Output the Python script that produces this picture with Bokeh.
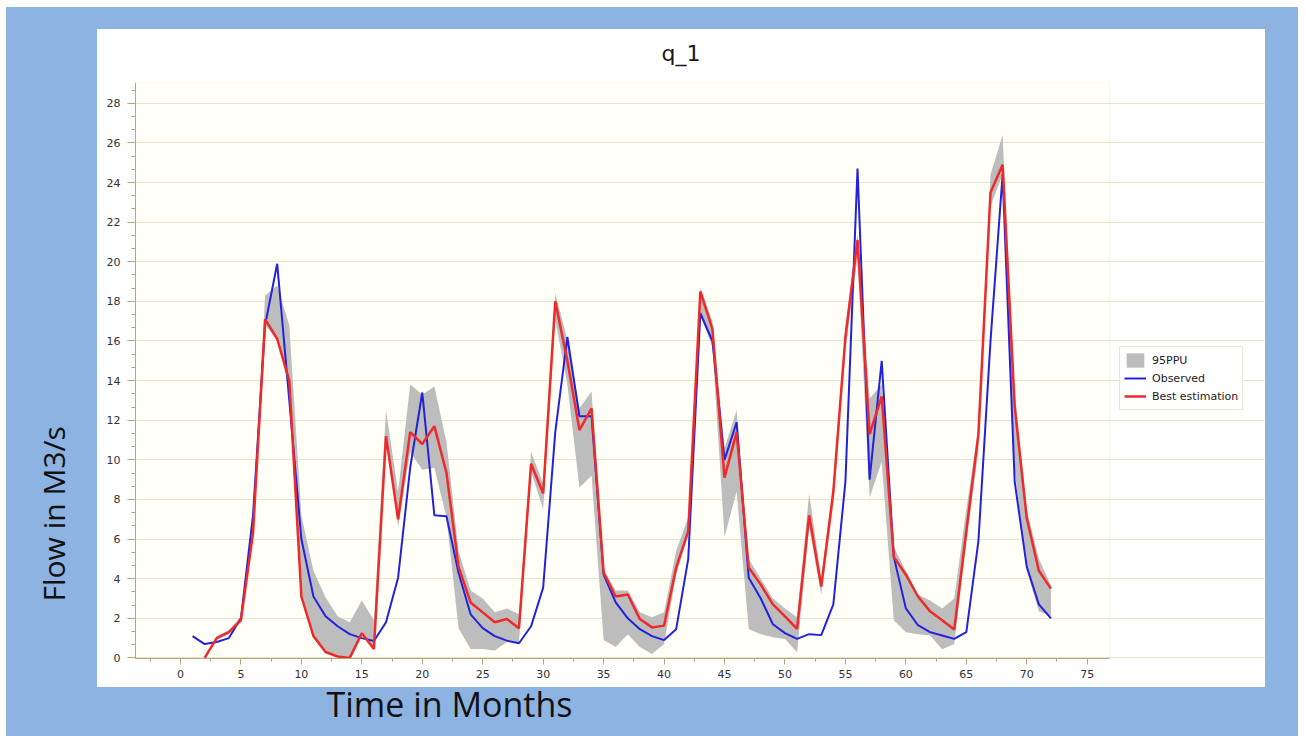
from bokeh.plotting import figure
from bokeh.models import (Range1d, SingleIntervalTicker, Legend, LegendItem,
                          ColumnDataSource, BoxAnnotation, Title)
from bokeh.embed import file_html
from bokeh.resources import INLINE

# ---------------- data ----------------
months = list(range(1, 73))
observed = [1.1, 0.7, 0.8, 1.0, 2.0, 7.2, 16.8, 19.9, 13.0, 6.0,
            3.1, 2.1, 1.6, 1.2, 1.0, 0.85, 1.8, 4.05, 9.6, 13.4,
            7.2, 7.15, 4.3, 2.2, 1.5, 1.1, 0.87, 0.74, 1.6, 3.55,
            11.4, 16.2, 12.2, 12.2, 4.2, 2.8, 2.0, 1.45, 1.1, 0.9,
            1.45, 5.0, 17.4, 16.0, 10.0, 11.9, 4.05, 3.0, 1.7, 1.25,
            0.96, 1.2, 1.15, 2.7, 8.9, 24.7, 9.0, 15.0, 5.1, 2.5,
            1.65, 1.3, 1.13, 0.96, 1.3, 5.9, 16.0, 24.4, 8.9, 4.6,
            2.7, 2.0]

est_months = list(range(2, 73))
best_estimation = [0.0, 1.0, 1.3, 1.9, 6.3, 17.1, 16.1, 14.0, 3.1,
                   1.1, 0.3, 0.07, 0.0, 1.24, 0.45, 11.2, 7.0, 11.4, 10.8,
                   11.7, 9.35, 4.6, 2.8, 2.3, 1.8, 1.96, 1.5, 9.8, 8.3,
                   18.0, 15.0, 11.5, 12.6, 4.3, 3.1, 3.2, 1.96, 1.54, 1.63,
                   4.56, 6.4, 18.5, 16.6, 9.1, 11.4, 4.56, 3.7, 2.7, 2.1,
                   1.46, 7.2, 3.6, 8.4, 16.2, 21.1, 11.3, 13.2, 5.1, 4.2,
                   3.1, 2.35, 1.9, 1.43, 6.4, 11.3, 23.5, 24.9, 12.7, 7.05,
                   4.4, 3.5]

ppu_lower = [0.0, 0.9, 1.2, 1.9, 6.1, 16.8, 16.1, 13.6, 3.1,
             1.1, 0.3, 0.05, 0.0, 1.2, 0.45, 11.2, 6.6, 10.4, 9.5,
             9.6, 7.1, 1.5, 0.45, 0.45, 0.37, 0.8, 0.8, 9.4, 7.5,
             17.1, 13.8, 8.6, 9.2, 0.9, 0.55, 1.2, 0.55, 0.2, 0.7,
             4.2, 6.2, 17.3, 15.7, 6.1, 8.4, 1.46, 1.2, 1.04, 0.96,
             0.29, 6.6, 3.2, 7.75, 15.5, 20.2, 8.1, 9.9, 1.9, 1.3,
             1.2, 1.13, 0.44, 0.7, 5.75, 10.5, 22.8, 24.4, 9.5, 4.4,
             2.35, 2.1]
ppu_upper = [0.1, 1.1, 1.4, 2.1, 6.6, 18.3, 18.8, 16.8, 7.2,
             4.4, 3.05, 2.1, 1.8, 2.9, 1.9, 12.5, 8.4, 13.8, 13.3,
             13.7, 10.9, 5.4, 3.4, 3.0, 2.3, 2.5, 2.2, 10.4, 8.8,
             18.4, 16.1, 12.6, 13.45, 4.5, 3.4, 3.4, 2.3, 2.05, 2.3,
             5.4, 7.1, 18.7, 17.0, 10.6, 12.5, 5.0, 4.0, 3.0, 2.5,
             2.05, 8.3, 4.06, 8.75, 16.7, 21.4, 13.1, 13.8, 5.6, 4.4,
             3.2, 2.9, 2.5, 3.0, 7.5, 11.6, 24.4, 26.4, 13.4, 7.5,
             5.0, 3.65]

x_ticks_step = 5
y_ticks_step = 2

# ---------------- figure ----------------
# plot area (axes box) limits; the frame itself extends to the right to hold the legend
X_LO, X_HI = -3.72, 76.84
Y_LO, Y_HI = -0.03, 29.05

bg = ("linear-gradient(#ffffff,#ffffff) 97px 29px / 1168px 658px no-repeat, "
      "linear-gradient(#8DB3E2,#8DB3E2) 6px 7px / 1292px 729px no-repeat, #ffffff")

p = figure(width=1306, height=736, output_backend="svg", toolbar_location=None,
           x_range=Range1d(X_LO, X_LO + 1130 / 12.09), y_range=Range1d(Y_LO, Y_HI),
           min_border_left=135, min_border_right=41, min_border_top=82,
           min_border_bottom=78,
           border_fill_color=None, background_fill_color=None,
           outline_line_color=None, styles={"background": bg})

# axes box background + border
p.add_layout(BoxAnnotation(left=X_LO, right=X_HI, bottom=Y_LO, top=Y_HI,
                           fill_color="#FFFFF8", fill_alpha=1.0,
                           line_color="#D9D4BC", line_width=1, level="image"))

# title
p.title.text = "q_1"
p.title.align = "left"
p.title.offset = 526
p.title.standoff = 34
p.title.text_font = "DejaVu Sans"
p.title.text_font_size = "22px"
p.title.text_font_style = "normal"
p.title.text_color = "#1a1a1a"

# axes
axis_col = "#B2A87C"
for ax in (p.xaxis[0], p.yaxis[0]):
    ax.axis_line_color = axis_col
    ax.major_tick_line_color = axis_col
    ax.minor_tick_line_color = axis_col
    ax.major_tick_in = 0
    ax.minor_tick_in = 0
    ax.major_label_text_font = "DejaVu Sans"
    ax.major_label_text_font_size = "11px"
    ax.major_label_text_color = "#333333"

p.xaxis[0].ticker = SingleIntervalTicker(interval=x_ticks_step, num_minor_ticks=2)
p.xaxis[0].bounds = (X_LO, X_HI)
p.xaxis[0].major_tick_out = 6
p.xaxis[0].minor_tick_out = 3
p.xaxis[0].major_label_standoff = 5

p.yaxis[0].ticker = SingleIntervalTicker(interval=y_ticks_step, num_minor_ticks=3)
p.yaxis[0].major_tick_out = 8
p.yaxis[0].minor_tick_out = 4
p.yaxis[0].major_label_standoff = 7

p.xgrid.visible = False
p.ygrid.bounds = (X_LO, X_HI)
p.ygrid.grid_line_color = "#E8E4CC"
p.ygrid.grid_line_width = 1

# axis captions
ylab = Title(text="Flow in M3/s", align="left", offset=57, standoff=60,
             text_font="Open Sans", text_font_size="30px", text_font_style="normal",
             text_color="#111111")
p.add_layout(ylab, "left")
xlab = Title(text="Time in Months", align="left", offset=191, standoff=0,
             vertical_align="top",
             text_font="Open Sans", text_font_size="34px", text_font_style="normal",
             text_color="#111111")
p.add_layout(xlab, "below")

# ---------------- glyphs ----------------
band_src = ColumnDataSource(dict(x=est_months, lo=ppu_lower, hi=ppu_upper))
band = p.varea(x="x", y1="lo", y2="hi", source=band_src, fill_color="#BDBDBD",
               fill_alpha=1.0)
obs_r = p.line(months, observed, line_color="#2222DD", line_width=2)
est_r = p.line(est_months, best_estimation, line_color="#EE2A2A", line_width=2.5)

legend = Legend(items=[LegendItem(label="95PPU", renderers=[band]),
                       LegendItem(label="Observed", renderers=[obs_r]),
                       LegendItem(label="Best estimation", renderers=[est_r])],
                location=(984, 248), margin=0, padding=4, spacing=0,
                label_height=18, glyph_height=18, glyph_width=22,
                label_standoff=6,
                label_text_font="DejaVu Sans", label_text_font_size="11px",
                label_text_color="#222222",
                border_line_color="#D6D0B4", background_fill_color="#FFFFFF",
                background_fill_alpha=1.0)
p.add_layout(legend)

open("out.html", "w").write(file_html(p, INLINE))
